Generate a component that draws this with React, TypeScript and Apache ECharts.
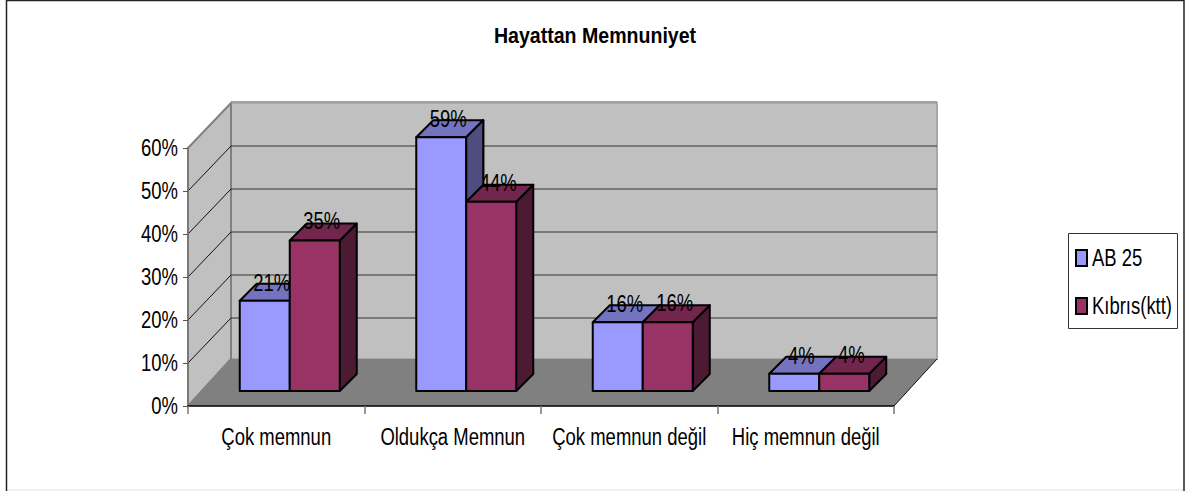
import React, { useEffect, useRef } from "react";
import * as echarts from "echarts";

const categories = ["Çok memnun", "Oldukça Memnun", "Çok memnun değil", "Hiç memnun değil"];
const ab25 = [21, 59, 16, 4];
const kibris = [35, 44, 16, 4];
const yTicks = [0, 10, 20, 30, 40, 50, 60];
const seriesNames = ["AB 25", "Kıbrıs(ktt)"];
const FONT = "'Liberation Sans', sans-serif";
const TEXT_SIZE = 24;
const NARROW = 0.77;
const NARROW_BOLD = 0.89;

const WALL_DX = 43;
const WALL_DY = -45;
const FLOOR_DY = -47;
const BAR_W = 50;
const BAR_DEPTH = 17;
const BAR_SHIFT_X = 13.5;
const BAR_SHIFT_Y = -15;

const blue = { front: "#9999FF", top: "#7373BF", side: "#4D4D80" };
const maroon = { front: "#993366", top: "#73264D", side: "#4D1A33" };
const edge = { stroke: "#000", lineWidth: 2, lineJoin: "round" };

function barShapes(api: any, side: number, colors: any, value: number) {
  const base = api.coord([api.value(0), 0]);
  const t = api.coord([api.value(0), value]);
  const x0 = base[0] + BAR_SHIFT_X + (side === 0 ? -BAR_W : 0);
  const x1 = x0 + BAR_W;
  const yb = base[1] + BAR_SHIFT_Y;
  const yt = t[1] + BAR_SHIFT_Y;
  const d = BAR_DEPTH;
  return {
    x0, x1, yb, yt,
    children: [
      { type: "polygon", shape: { points: [[x1, yt], [x1 + d, yt - d], [x1 + d, yb - d], [x1, yb]] }, style: { fill: colors.side, ...edge } },
      { type: "polygon", shape: { points: [[x0, yt], [x0 + d, yt - d], [x1 + d, yt - d], [x1, yt]] }, style: { fill: colors.top, ...edge } },
      { type: "rect", shape: { x: x0, y: yt, width: BAR_W, height: yb - yt }, style: { fill: colors.front, ...edge } },
    ] as any[],
  };
}

function labelEl(x: number, y: number, value: number) {
  return {
    type: "text",
    x,
    y,
    style: { text: value + "%", font: `${TEXT_SIZE}px ${FONT}`, fill: "#000", align: "center", verticalAlign: "middle" },
  };
}

function renderWalls(params: any, api: any) {
  const cs = params.coordSys;
  const left = cs.x, right = cs.x + cs.width;
  const y0 = api.coord([0, 0])[1];
  const yTop = api.coord([0, yTicks[yTicks.length - 1]])[1];
  const dx = WALL_DX, dy = WALL_DY;
  const children: any[] = [
    { type: "polygon", shape: { points: [[left + dx, yTop + dy], [right + dx, yTop + dy], [right + dx, y0 + FLOOR_DY], [left + dx, y0 + FLOOR_DY]] }, style: { fill: "#C0C0C0", stroke: "#A8A8A8", lineWidth: 2 } },
    { type: "polygon", shape: { points: [[left, yTop], [left + dx, yTop + dy], [left + dx, y0 + FLOOR_DY], [left, y0]] }, style: { fill: "#C0C0C0", stroke: "#808080", lineWidth: 2 } },
  ];
  yTicks.slice(1, -1).forEach((t) => {
    const y = api.coord([0, t])[1];
    children.push({ type: "line", shape: { x1: left, y1: y, x2: left + dx, y2: y + dy }, style: { stroke: "#111", lineWidth: 1 } });
    children.push({ type: "line", shape: { x1: left + dx, y1: y + dy, x2: right + dx, y2: y + dy }, style: { stroke: "#333", lineWidth: 1 } });
  });
  children.push({ type: "polygon", shape: { points: [[left, y0], [left + dx, y0 + FLOOR_DY], [right + dx, y0 + FLOOR_DY], [right, y0]] }, style: { fill: "#808080" } });
  children.push({ type: "line", shape: { x1: right, y1: y0, x2: right + dx, y2: y0 + FLOOR_DY }, style: { stroke: "#111", lineWidth: 1 } });
  children.push({ type: "line", shape: { x1: left + dx, y1: yTop + dy - 1, x2: right + dx, y2: yTop + dy - 1 }, style: { stroke: "#A0A0A0", lineWidth: 2 } });
  return { type: "group", children };
}

function renderBlue(_p: any, api: any) {
  const v = api.value(1);
  const b = barShapes(api, 0, blue, v);
  return {
    type: "group",
    children: [...b.children, labelEl((b.x0 + b.x1) / 2 + 7, b.yt - 18, v)],
  };
}

function renderMaroon(p: any, api: any) {
  const v = api.value(1);
  const b = barShapes(api, 1, maroon, v);
  const children: any[] = [...b.children, labelEl((b.x0 + b.x1) / 2 + 7, b.yt - 19, v)];
  const other = ab25[p.dataIndex];
  if (other > v) {
    const base = api.coord([api.value(0), 0]);
    const oy = api.coord([api.value(0), other])[1] + BAR_SHIFT_Y;
    const x = base[0] + BAR_SHIFT_X;
    const d = BAR_DEPTH;
    children.push({
      type: "polygon",
      shape: { points: [[x, oy], [x + d, oy - d], [x + d, b.yt - d], [x, b.yt]] },
      style: { fill: blue.side, ...edge },
    });
  }
  return { type: "group", children };
}

export default function App() {
  const ref = useRef<HTMLDivElement>(null);
  useEffect(() => {
    const chart = echarts.init(ref.current!, null, { renderer: "svg" });
    chart.setOption({
      animation: false,
      backgroundColor: "#fff",
      title: {
        text: "Hayattan Memnuniyet",
        left: 590,
        top: 19,
        textAlign: "center",
        textStyle: { fontFamily: FONT, fontSize: 22, fontWeight: "bold", color: "#000" },
      },
      legend: {
        left: 1068,
        top: 233,
        orient: "vertical",
        padding: [13, 5, 13, 7],
        itemGap: 24,
        itemWidth: 11,
        itemHeight: 16,
        textStyle: { fontFamily: FONT, fontSize: TEXT_SIZE, color: "#000" },
        data: [
          { name: seriesNames[0], icon: "rect", itemStyle: { color: blue.front, borderColor: "#000", borderWidth: 2 } },
          { name: seriesNames[1], icon: "rect", itemStyle: { color: maroon.front, borderColor: "#000", borderWidth: 2 } },
        ],
      },
      grid: { left: 188, right: 292, top: 148, bottom: 85 },
      xAxis: {
        type: "category",
        data: categories,
        z: 5,
        axisLine: { lineStyle: { color: "#000", width: 1.5 } },
        axisTick: { show: true, length: 8, alignWithLabel: false, lineStyle: { color: "#777", width: 1.5 } },
        axisLabel: { fontFamily: FONT, fontSize: TEXT_SIZE, color: "#000", margin: 19, interval: 0, hideOverlap: false },
      },
      yAxis: {
        type: "value",
        min: 0,
        max: 60,
        interval: 10,
        z: 5,
        axisLine: { show: true, lineStyle: { color: "#777", width: 1.5 } },
        axisTick: { show: true, length: 5, lineStyle: { color: "#555", width: 1 } },
        splitLine: { show: false },
        axisLabel: { fontFamily: FONT, fontSize: TEXT_SIZE, color: "#000", margin: 10, formatter: "{value}%" },
      },
      graphic: [
        { type: "rect", z: -1, shape: { x: 6.5, y: 0.5, width: 1177.5, height: 500 }, style: { fill: "none", stroke: "#222", lineWidth: 1.5 } },
        { type: "line", z: -1, shape: { x1: 8, y1: 490, x2: 1183, y2: 490 }, style: { stroke: "#E2E2E2", lineWidth: 1 } },
        { type: "rect", z: -1, shape: { x: 1068.5, y: 233.5, width: 109, height: 95 }, style: { fill: "#fff", stroke: "#333", lineWidth: 1 } },
      ],
      series: [
        { type: "custom", name: "walls", coordinateSystem: "cartesian2d", z: 1, silent: true, data: [[0, 0]], renderItem: renderWalls, encode: { x: 0, y: 1 } },
        { type: "custom", name: seriesNames[0], coordinateSystem: "cartesian2d", z: 6, data: ab25.map((v, i) => [i, v]), renderItem: renderBlue, encode: { x: 0, y: 1 } },
        { type: "custom", name: seriesNames[1], coordinateSystem: "cartesian2d", z: 7, data: kibris.map((v, i) => [i, v]), renderItem: renderMaroon, encode: { x: 0, y: 1 } },
      ],
    });
    // The reference's type is a condensed face: narrow every text horizontally around its anchor.
    const zr: any = chart.getZr();
    zr.storage.getDisplayList(true).forEach((el: any) => {
      const owner = el.parent;
      if (el.type !== "tspan" || !owner) return;
      const bold = String(el.style.font || "").includes("bold");
      owner.scaleX = bold ? NARROW_BOLD : NARROW;
      const sx = owner.style && owner.style.x;
      if (sx) owner.originX = sx;
      owner.markRedraw();
    });
    zr.refreshImmediately();
    return () => chart.dispose();
  }, []);
  return <div ref={ref} style={{ position: "fixed", left: 0, top: 0, width: 1186, height: 491 }} />;
}
